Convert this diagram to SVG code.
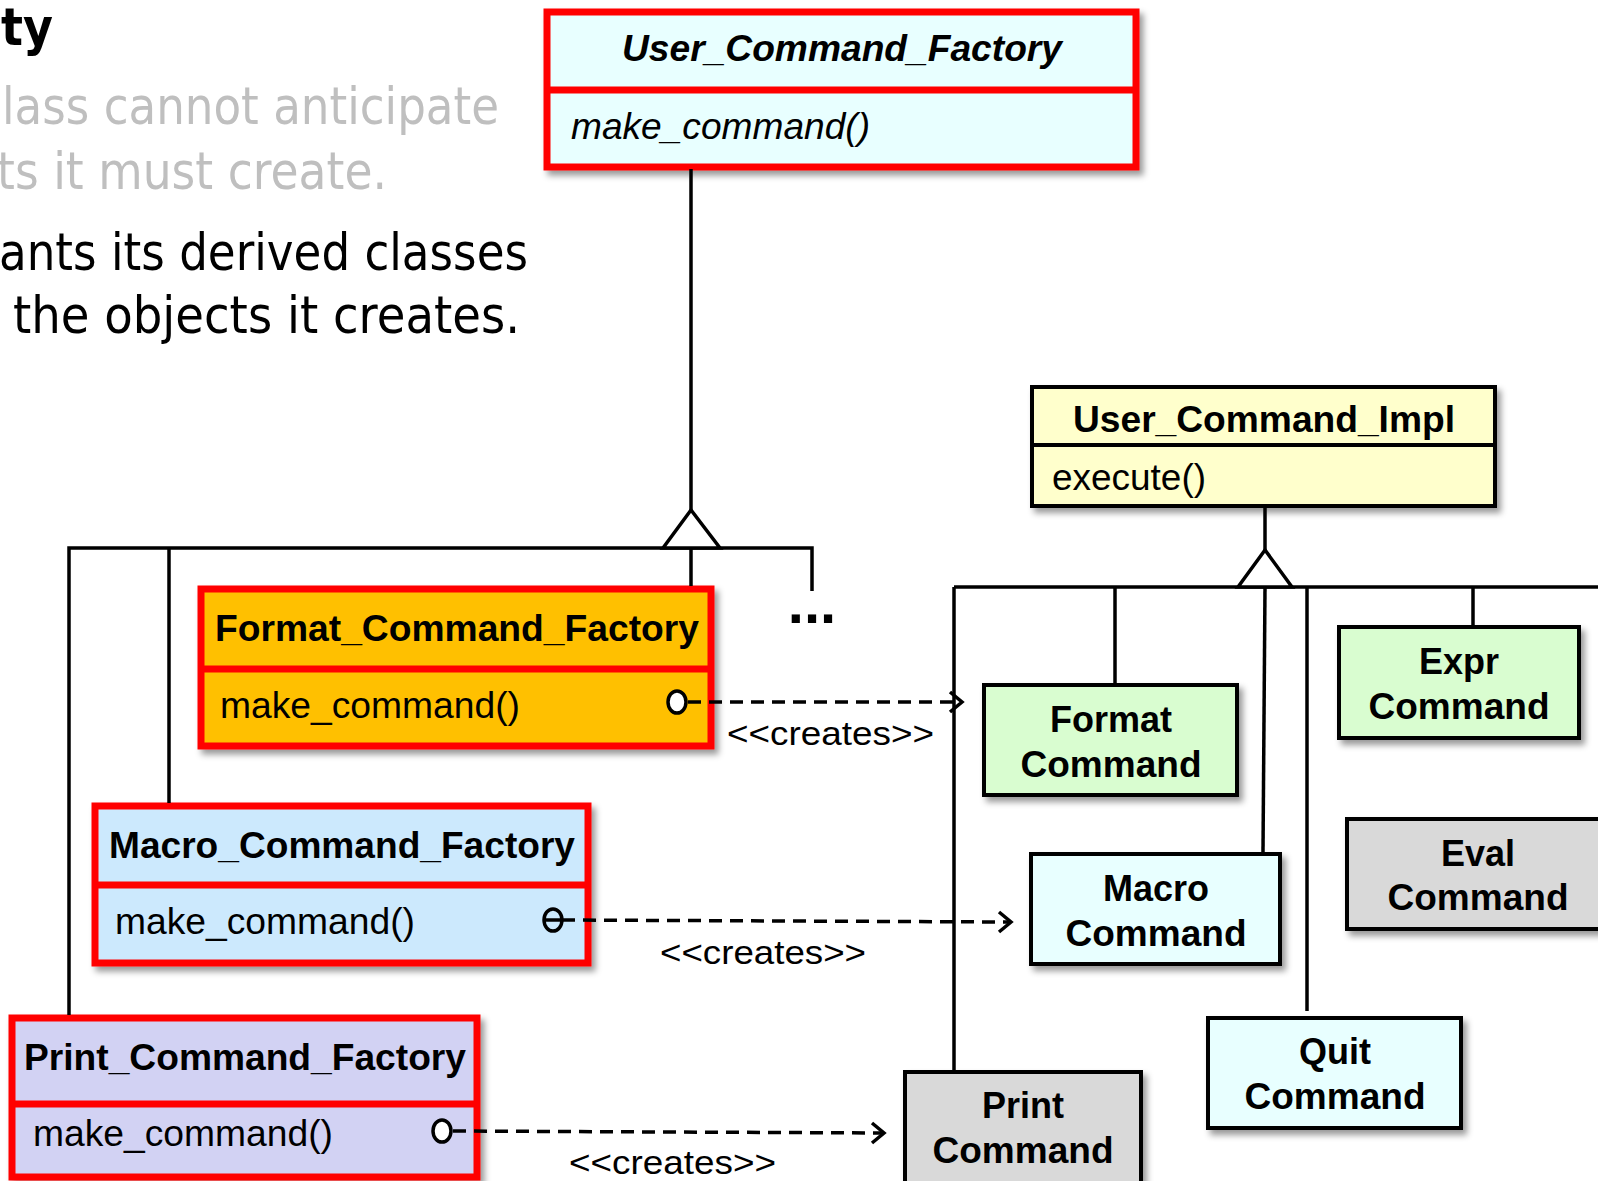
<svg xmlns="http://www.w3.org/2000/svg" width="1598" height="1181" viewBox="0 0 1598 1181">
<style>
.bg{fill:#fff}
.lt{font-family:"DejaVu Sans","Liberation Sans",sans-serif;font-size:52px}
.gray{fill:#bfbfbf}
.blk{fill:#000}
.ttl{font-family:"Liberation Sans",Arial,sans-serif;font-weight:bold;font-size:36px;fill:#000}
.ops{font-family:"Liberation Sans",Arial,sans-serif;font-size:36px;fill:#000}
.it{font-style:italic}
.cmd{font-family:"Liberation Sans",Arial,sans-serif;font-weight:bold;font-size:36px;fill:#000;text-anchor:middle}
.dots{font-family:"Liberation Sans",Arial,sans-serif;font-weight:bold;font-size:58px;fill:#000;text-anchor:middle}
.lbl{font-family:"Liberation Sans",Arial,sans-serif;font-size:34px;fill:#000}
.redbox{stroke:#ff0000;stroke-width:7}
.blkbox{stroke:#000;stroke-width:4}
.ln{stroke:#000;stroke-width:3.5;fill:none}
.dash{stroke:#000;stroke-width:3.5;fill:none;stroke-dasharray:13 8}
.arrowhead{stroke:#000;stroke-width:3.5;fill:none}
.tri{stroke:#000;stroke-width:3.5;fill:#fff}
.port{stroke:#000;stroke-width:3.5}
</style>
<defs>
<filter id="sh" x="-10%" y="-10%" width="125%" height="130%">
<feDropShadow dx="4" dy="5" stdDeviation="3" flood-color="#000" flood-opacity="0.4"/>
</filter>
</defs>
<rect class="bg" x="0" y="0" width="1598" height="1181"/>

<g id="intro-text">
<text class="lt blk" x="1" y="45" font-weight="bold" textLength="52" lengthAdjust="spacingAndGlyphs">ty</text>
<text class="lt gray" x="2" y="124" textLength="497" lengthAdjust="spacingAndGlyphs">lass cannot anticipate</text>
<text class="lt gray" x="-3" y="189" textLength="390" lengthAdjust="spacingAndGlyphs">ts it must create.</text>
<text class="lt blk" x="-1" y="270" textLength="529" lengthAdjust="spacingAndGlyphs">ants its derived classes</text>
<text class="lt blk" x="13" y="333" textLength="507" lengthAdjust="spacingAndGlyphs">the objects it creates.</text>
</g>

<g id="User_Command_Factory">
<rect class="redbox" x="547" y="12" width="589" height="155" fill="#e8ffff" filter="url(#sh)"/>
<line class="redbox" x1="547" y1="90" x2="1136" y2="90"/>
<text class="ttl it" x="842" y="61" text-anchor="middle" textLength="440" lengthAdjust="spacingAndGlyphs">User_Command_Factory</text>
<text class="ops it" x="571" y="139" textLength="299" lengthAdjust="spacingAndGlyphs">make_command()</text>
</g>

<g id="Format_Command_Factory">
<rect class="redbox" x="201" y="589" width="510" height="157" fill="#ffc000" filter="url(#sh)"/>
<line class="redbox" x1="201" y1="669" x2="711" y2="669"/>
<text class="ttl" x="215" y="641" textLength="484" lengthAdjust="spacingAndGlyphs">Format_Command_Factory</text>
<text class="ops" x="220" y="718" textLength="300" lengthAdjust="spacingAndGlyphs">make_command()</text>
</g>

<g id="Macro_Command_Factory">
<rect class="redbox" x="95" y="806" width="493" height="157" fill="#cce9fd" filter="url(#sh)"/>
<line class="redbox" x1="95" y1="885" x2="588" y2="885"/>
<text class="ttl" x="109" y="858" textLength="466" lengthAdjust="spacingAndGlyphs">Macro_Command_Factory</text>
<text class="ops" x="115" y="934" textLength="300" lengthAdjust="spacingAndGlyphs">make_command()</text>
</g>

<g id="Print_Command_Factory">
<rect class="redbox" x="12" y="1018" width="465" height="159" fill="#d2d2f3" filter="url(#sh)"/>
<line class="redbox" x1="12" y1="1104" x2="477" y2="1104"/>
<text class="ttl" x="24" y="1070" textLength="442" lengthAdjust="spacingAndGlyphs">Print_Command_Factory</text>
<text class="ops" x="33" y="1146" textLength="300" lengthAdjust="spacingAndGlyphs">make_command()</text>
</g>

<g id="User_Command_Impl">
<rect class="blkbox" x="1032" y="387" width="463" height="119" fill="#ffffcc" filter="url(#sh)"/>
<line class="blkbox" x1="1032" y1="445" x2="1495" y2="445"/>
<text class="ttl" x="1264" y="432" text-anchor="middle" textLength="382" lengthAdjust="spacingAndGlyphs">User_Command_Impl</text>
<text class="ops" x="1052" y="490" textLength="154" lengthAdjust="spacingAndGlyphs">execute()</text>
</g>

<g id="Format_Command">
<rect class="blkbox" x="984" y="685" width="253" height="110" fill="#d9fdd0" filter="url(#sh)"/>
<text class="cmd" x="1111" y="732">Format</text>
<text class="cmd" x="1111" y="777" textLength="181" lengthAdjust="spacingAndGlyphs">Command</text>
</g>

<g id="Expr_Command">
<rect class="blkbox" x="1339" y="627" width="240" height="111" fill="#d9fdd0" filter="url(#sh)"/>
<text class="cmd" x="1459" y="674">Expr</text>
<text class="cmd" x="1459" y="719" textLength="181" lengthAdjust="spacingAndGlyphs">Command</text>
</g>

<g id="Eval_Command">
<rect class="blkbox" x="1347" y="819" width="270" height="110" fill="#d9d9d9" filter="url(#sh)"/>
<text class="cmd" x="1478" y="866">Eval</text>
<text class="cmd" x="1478" y="910" textLength="181" lengthAdjust="spacingAndGlyphs">Command</text>
</g>

<g id="Macro_Command">
<rect class="blkbox" x="1031" y="854" width="249" height="110" fill="#e8ffff" filter="url(#sh)"/>
<text class="cmd" x="1156" y="901">Macro</text>
<text class="cmd" x="1156" y="946" textLength="181" lengthAdjust="spacingAndGlyphs">Command</text>
</g>

<g id="Quit_Command">
<rect class="blkbox" x="1208" y="1018" width="253" height="110" fill="#e8ffff" filter="url(#sh)"/>
<text class="cmd" x="1335" y="1064">Quit</text>
<text class="cmd" x="1335" y="1109" textLength="181" lengthAdjust="spacingAndGlyphs">Command</text>
</g>

<g id="Print_Command">
<rect class="blkbox" x="905" y="1072" width="236" height="130" fill="#d9d9d9" filter="url(#sh)"/>
<text class="cmd" x="1023" y="1118">Print</text>
<text class="cmd" x="1023" y="1163" textLength="181" lengthAdjust="spacingAndGlyphs">Command</text>
</g>

<g id="connectors">
<!-- factory hierarchy -->
<line class="ln" x1="691" y1="169" x2="691" y2="510"/>
<polyline class="ln" points="69,1015 69,548 812,548 812,591"/>
<line class="ln" x1="169" y1="548" x2="169" y2="803"/>
<line class="ln" x1="691" y1="548" x2="691" y2="586"/>
<polygon class="tri" points="691,510 663,548 720,548"/>
<!-- command hierarchy -->
<line class="ln" x1="1265" y1="508" x2="1265" y2="550"/>
<line class="ln" x1="954" y1="587" x2="1598" y2="587"/>
<line class="ln" x1="954" y1="587" x2="954" y2="1070"/>
<line class="ln" x1="1115" y1="587" x2="1115" y2="683"/>
<line class="ln" x1="1265" y1="587" x2="1263" y2="852"/>
<line class="ln" x1="1307" y1="587" x2="1307" y2="1011"/>
<line class="ln" x1="1473" y1="587" x2="1473" y2="625"/>
<polygon class="tri" points="1265,550 1238,587 1292,587"/>
<!-- creates dependencies -->
<line class="dash" x1="688" y1="702" x2="961" y2="702"/>
<polyline class="arrowhead" points="950,692 962,702 950,712"/>
<line class="dash" x1="562" y1="920" x2="1010" y2="922"/>
<polyline class="arrowhead" points="999,912 1011,922 999,932"/>
<line class="dash" x1="453" y1="1131" x2="883" y2="1133"/>
<polyline class="arrowhead" points="872,1123 884,1133 872,1143"/>
<ellipse class="port" cx="677" cy="702" rx="9" ry="11" fill="#fff"/>
<ellipse class="port" cx="553" cy="920" rx="9" ry="11" fill="none"/>
<line class="port" x1="544" y1="920" x2="562" y2="920"/>
<ellipse class="port" cx="442" cy="1131" rx="9" ry="11" fill="#fff"/>
<text class="lbl" x="727" y="745" textLength="207" lengthAdjust="spacingAndGlyphs">&lt;&lt;creates&gt;&gt;</text>
<text class="lbl" x="660" y="964" textLength="206" lengthAdjust="spacingAndGlyphs">&lt;&lt;creates&gt;&gt;</text>
<text class="lbl" x="569" y="1174" textLength="207" lengthAdjust="spacingAndGlyphs">&lt;&lt;creates&gt;&gt;</text>
<text class="dots" x="812" y="623">...</text>
</g>
</svg>
